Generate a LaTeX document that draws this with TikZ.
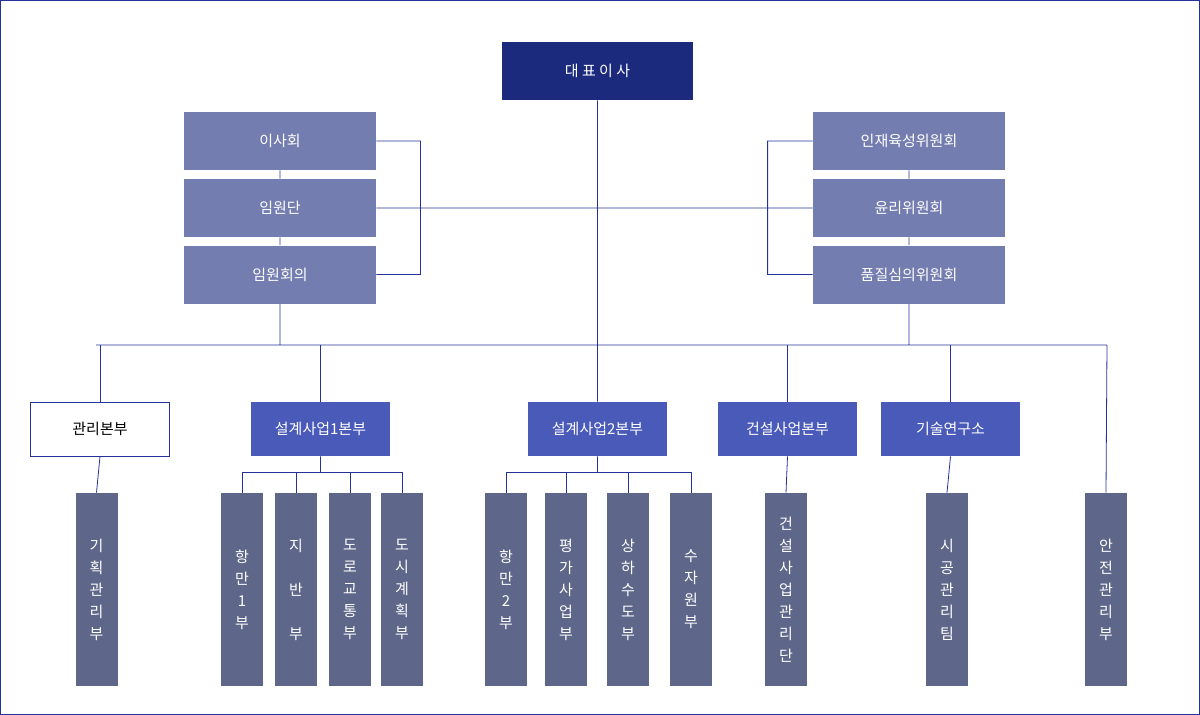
\documentclass[tikz,border=0pt]{standalone}
\usepackage{fontspec}
\setmainfont{Noto Sans CJK KR}
\definecolor{ceoc}{HTML}{1B2A7C}
\definecolor{comc}{HTML}{737DAF}
\definecolor{divc}{HTML}{4A5AB8}
\definecolor{teamc}{HTML}{5E6789}
\definecolor{linec}{HTML}{24339A}
\tikzset{
  box/.style={draw=none,minimum width=192pt,minimum height=58pt,inner sep=0pt,text=white,font=\fontsize{15}{18}\selectfont},
  ceo/.style={box,fill=ceoc,minimum width=191pt},
  com/.style={box,fill=comc},
  div/.style={box,fill=divc,minimum width=139pt,minimum height=54pt},
  team/.style={box,fill=teamc,minimum width=42pt,minimum height=193pt,align=center,font=\fontsize{15}{22}\selectfont},
}
\begin{document}
\begin{tikzpicture}[x=1pt,y=-1pt,line width=0.8pt,draw=linec]
        \draw[linec,line width=1pt] (0.5,0.5) rectangle (1199.5,714.5);
        \useasboundingbox (0,0) rectangle (1200,715);
        % top
        \draw (597.5,71) node[ceo](ceo){대 표 이 사};
        \draw (280,141) node[com](isa){이사회};
        \draw (280,208) node[com](imwon){임원단};
        \draw (280,274.5) node[com](hoeui){임원회의};
        \draw (909,141) node[com](inje){인재육성위원회};
        \draw (909,208) node[com](yulli){윤리위원회};
        \draw (909,274.5) node[com](pumjil){품질심의위원회};
        % divisions
        \draw (100,429) node[div,fill=white,draw=linec,text=black](gwanri){관리본부};
        \draw (320.5,429) node[div](seol1){설계사업1본부};
        \draw (597.5,429) node[div](seol2){설계사업2본부};
        \draw (787.5,429) node[div](geon){건설사업본부};
        \draw (950.5,429) node[div](gisul){기술연구소};
        % teams
        \draw (96.5,589.5) node[team](gihoek){기\\획\\관\\리\\부};
        \draw (242,589.5) node[team](hang1){항\\만\\1\\부};
        \draw (296,589.5) node[team](jiban){지\\\\반\\\\부};
        \draw (350,589.5) node[team](doro){도\\로\\교\\통\\부};
        \draw (402,589.5) node[team](dosi){도\\시\\계\\획\\부};
        \draw (506,589.5) node[team](hang2){항\\만\\2\\부};
        \draw (566,589.5) node[team](pyeong){평\\가\\사\\업\\부};
        \draw (628,589.5) node[team](sangha){상\\하\\수\\도\\부};
        \draw (691,589.5) node[team](suja){수\\자\\원\\부};
        \draw (786,589.5) node[team](geongwan){건\\설\\사\\업\\관\\리\\단};
        \draw (947,589.5) node[team](sigong){시\\공\\관\\리\\팀};
        \draw (1106,589.5) node[team](anjeon){안\\전\\관\\리\\부};
        \coordinate (busL) at (96,345);
        \coordinate (busR) at (1107,345);
        \draw
          (ceo.south) -- (seol2.north)
          (isa.south) -- (imwon.north)
          (imwon.south) -- (hoeui.north)
          (inje.south) -- (yulli.north)
          (yulli.south) -- (pumjil.north)
          (isa.east) -- ++(44,0) |- (hoeui.east)
          (inje.west) -- ++(-45,0) |- (pumjil.west)
          (imwon.east) -- (yulli.west)
          (hoeui.south) -- (hoeui.south |- busL)
          (pumjil.south) -- (pumjil.south |- busL)
          (busL) -- (busR)
          (busR) -- (anjeon.north)
          (gwanri.south) -- (gihoek.north)
          (geon.south) -- (geongwan.north)
          (gisul.south) -- (sigong.north)
          (seol1.south) -- ++(0,16) coordinate (b1)
          (seol2.south) -- ++(0,16) coordinate (b2)
        ;
        \foreach \n in {gwanri,seol1,gisul,geon}
          \draw (\n.north |- busL) -- (\n.north);
        \foreach \n in {hang1,jiban,doro,dosi}
          \draw (\n.north) |- (b1);
        \foreach \n in {hang2,pyeong,sangha,suja}
          \draw (\n.north) |- (b2);
      \end{tikzpicture}
\end{document}
